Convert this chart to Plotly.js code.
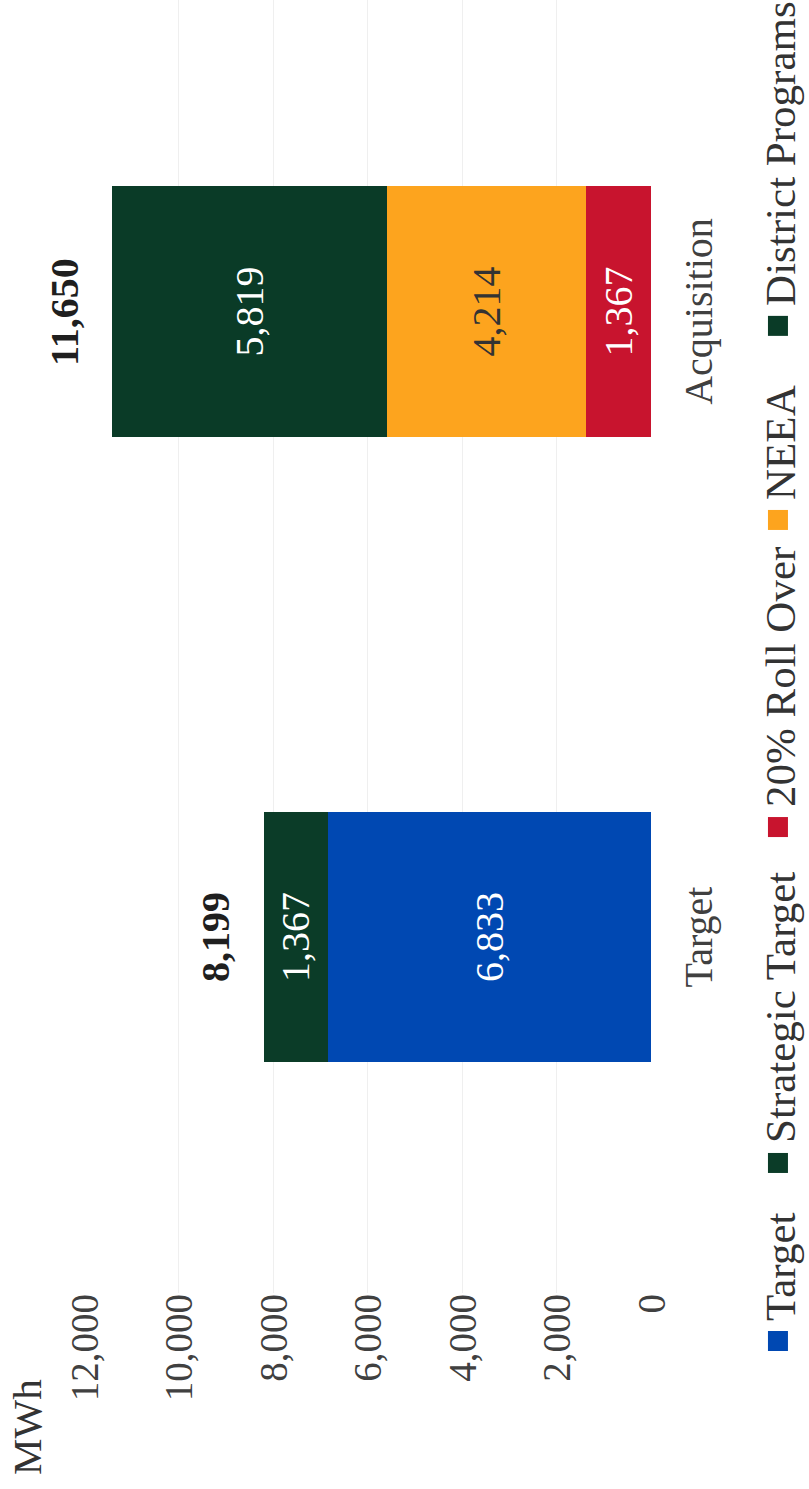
<!DOCTYPE html>
<html>
<head>
<meta charset="utf-8">
<script src="https://cdn.plot.ly/plotly-3.0.1.min.js"></script>
<style>
html, body { margin:0; padding:0; overflow:hidden; background:#ffffff; width:809px; height:1489px; }
#wrap { position:absolute; left:0; top:0; width:1489px; height:809px; transform-origin:0 0; transform:translate(0px,1489px) rotate(-90deg); }
#chart { width:1489px; height:809px; }
</style>
</head>
<body>
<div id="wrap"><div id="chart"></div></div>
<script>
// ---- data ----
const categories = ["Target", "Acquisition"];
const seriesNames = ["Target", "Strategic Target", "20% Roll Over", "NEEA", "District Programs"];
const targetValues = [6833, null];
const strategicTargetValues = [1367, null];
const rollOverValues = [null, 1367];
const neeaValues = [null, 4214];
const districtProgramsValues = [null, 5819];
const totalLabels = ["8,199", "11,650"];
const yTickValues = [0, 2000, 4000, 6000, 8000, 10000, 12000];
const yTickLabels = ["0", "2,000", "4,000", "6,000", "8,000", "10,000", "12,000"];
const axisUnit = "MWh";

// ---- styling ----
const FONT = "Liberation Serif, Times New Roman, serif";
const seriesValues = [targetValues, strategicTargetValues, rollOverValues, neeaValues, districtProgramsValues];
const seriesColors = ["#0048B2", "#0B3C28", "#C8142E", "#FDA41E", "#0A3B27"];
const textColors = ["#ffffff", "#ffffff", "#ffffff", "#333333", "#ffffff"];
const legendIds = ["legend", "legend2", "legend3", "legend4", "legend5"];
const legendX = [-0.0526, 0.0851, 0.3449, 0.5824, 0.7325];

const traces = seriesNames.map((name, k) => ({
  type: "bar",
  name: name,
  legend: legendIds[k],
  x: categories,
  y: seriesValues[k],
  width: 0.4,
  marker: { color: seriesColors[k], line: { width: 0 } },
  texttemplate: "%{y:,.0f}",
  textposition: "inside",
  insidetextanchor: "middle",
  textangle: 0,
  constraintext: "none",
  textfont: { family: FONT, size: 40, color: textColors[k] },
  hoverinfo: "skip"
}));

const stackTotals = categories.map((c, i) =>
  seriesValues.reduce((s, arr) => s + (arr[i] || 0), 0));

const annotations = categories.map((c, i) => ({
  x: c, y: stackTotals[i], xref: "x", yref: "y",
  text: "<b>" + totalLabels[i] + "</b>",
  showarrow: false, yanchor: "middle", xanchor: "center", yshift: 48,
  font: { family: FONT, size: 40, color: "#1f1f1f" }
}));
annotations.push({
  xref: "paper", yref: "paper", x: -0.1423, y: 1.1005,
  xanchor: "left", yanchor: "middle", showarrow: false,
  text: axisUnit, font: { family: FONT, size: 41, color: "#333333" }
});

const layout = {
  width: 1489, height: 809,
  barmode: "stack",
  margin: { l: 196, r: 0, t: 84, b: 158, autoexpand: false },
  paper_bgcolor: "#ffffff", plot_bgcolor: "#ffffff",
  font: { family: FONT, color: "#404040" },
  xaxis: {
    type: "category", range: [-0.569, 1.498],
    showgrid: false, zeroline: false, showline: false, ticks: "",
    tickfont: { family: FONT, size: 40, color: "#404040" },
    ticklabelstandoff: 20, fixedrange: true
  },
  yaxis: {
    range: [0, 12000], tickvals: yTickValues, ticktext: yTickLabels,
    showgrid: true, gridcolor: "#EFEFEF", gridwidth: 1,
    zeroline: false, showline: false, ticks: "",
    tickfont: { family: FONT, size: 39, color: "#404040" }, fixedrange: true
  },
  showlegend: true,
  annotations: annotations
};
legendIds.forEach((id, k) => {
  layout[id] = {
    orientation: "h", x: legendX[k], xanchor: "left", y: -0.224, yanchor: "middle",
    font: { family: FONT, size: 43, color: "#333333" },
    bgcolor: "rgba(0,0,0,0)", borderwidth: 0
  };
});

Plotly.newPlot("chart", traces, layout, { staticPlot: true, displayModeBar: false }).then(() => {
  document.querySelectorAll("#chart .legendpoints path").forEach(p => {
    p.setAttribute("d", "M10,10H-10V-10H10Z");
  });
});
</script>
</body>
</html>
